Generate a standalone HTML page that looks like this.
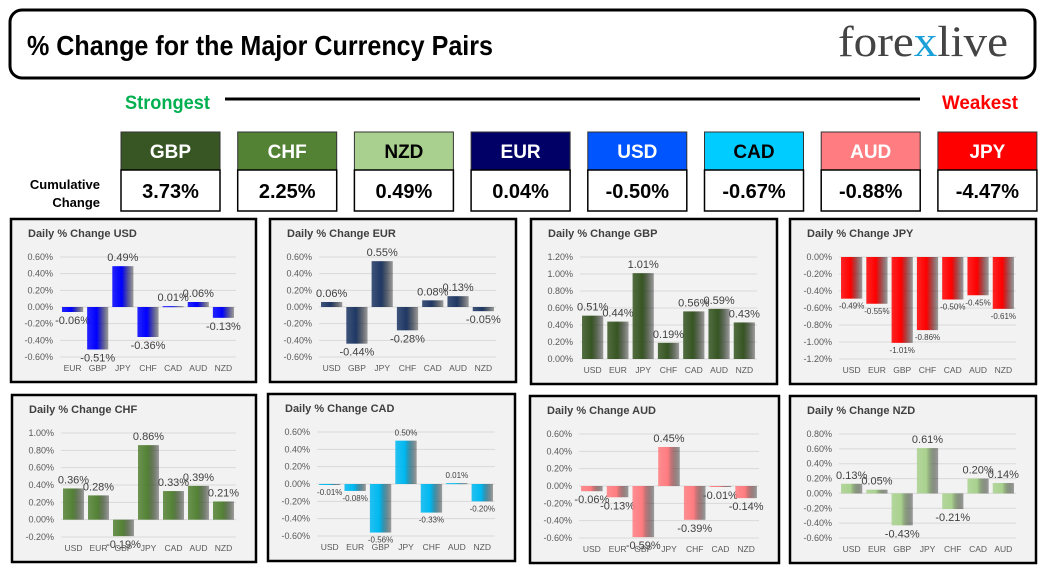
<!DOCTYPE html>
<html><head><meta charset="utf-8"><style>
body{margin:0;background:#fff;width:1046px;height:577px;overflow:hidden}
svg{display:block}
.imp{font-family:"Liberation Sans Narrow","Liberation Sans",sans-serif;font-weight:bold}
</style></head><body>
<svg id="root" width="1046" height="577" viewBox="0 0 1046 577" xmlns="http://www.w3.org/2000/svg">
<rect x="10" y="10" width="1025" height="68" rx="12" fill="#fff" stroke="#000" stroke-width="3"/>
<text x="27" y="55" class="imp" font-size="28" fill="#000" textLength="466" lengthAdjust="spacingAndGlyphs">% Change for the Major Currency Pairs</text>
<g>
<text x="838" y="56" font-family="Liberation Serif,serif" font-size="43" fill="#444" textLength="170" lengthAdjust="spacingAndGlyphs">fore<tspan fill="#1aa0d8">x</tspan>live</text>
</g>
<text x="125" y="109" class="imp" font-size="19" fill="#00b050" textLength="85" lengthAdjust="spacingAndGlyphs">Strongest</text>
<line x1="225" y1="99" x2="920" y2="99" stroke="#000" stroke-width="3"/>
<text x="942" y="109" class="imp" font-size="19" fill="#ff0000" textLength="76" lengthAdjust="spacingAndGlyphs">Weakest</text>
<text x="100" y="189" text-anchor="end" class="imp" font-size="13" fill="#000">Cumulative</text>
<text x="100" y="207" text-anchor="end" class="imp" font-size="13" fill="#000">Change</text>
<g id="cards"></g>
<g id="charts"></g>
</svg>
<script>
const NS="http://www.w3.org/2000/svg";
const cardNames=["GBP","CHF","NZD","EUR","USD","CAD","AUD","JPY"];
const cardValues=["3.73%","2.25%","0.49%","0.04%","-0.50%","-0.67%","-0.88%","-4.47%"];
const cardColors=["#375623","#548235","#a9d08e","#000066","#0055ff","#00ccff","#ff7c80","#ff0000"];
const cardText=["#fff","#fff","#000","#fff","#fff","#000","#fff","#fff"];

const usdCats=["EUR","GBP","JPY","CHF","CAD","AUD","NZD"];
const usdVals=[-0.06,-0.51,0.49,-0.36,0.01,0.06,-0.13];
const eurCats=["USD","GBP","JPY","CHF","CAD","AUD","NZD"];
const eurVals=[0.06,-0.44,0.55,-0.28,0.08,0.13,-0.05];
const gbpCats=["USD","EUR","JPY","CHF","CAD","AUD","NZD"];
const gbpVals=[0.51,0.44,1.01,0.19,0.56,0.59,0.43];
const jpyCats=["USD","EUR","GBP","CHF","CAD","AUD","NZD"];
const jpyVals=[-0.49,-0.55,-1.01,-0.86,-0.50,-0.45,-0.61];
const chfCats=["USD","EUR","GBP","JPY","CAD","AUD","NZD"];
const chfVals=[0.36,0.28,-0.19,0.86,0.33,0.39,0.21];
const cadCats=["USD","EUR","GBP","JPY","CHF","AUD","NZD"];
const cadVals=[-0.01,-0.08,-0.56,0.50,-0.33,0.01,-0.20];
const audCats=["USD","EUR","GBP","JPY","CHF","CAD","NZD"];
const audVals=[-0.06,-0.13,-0.59,0.45,-0.39,-0.01,-0.14];
const nzdCats=["USD","EUR","GBP","JPY","CHF","CAD","AUD"];
const nzdVals=[0.13,0.05,-0.43,0.61,-0.21,0.20,0.14];

const panels=[
 {n:"usd",t:"USD",x:11,y:219,w:245,h:163,c:usdCats,v:usdVals,min:-0.6,max:0.6,col:"#0000ff",fs:11},
 {n:"eur",t:"EUR",x:270,y:219,w:246,h:163,c:eurCats,v:eurVals,min:-0.6,max:0.6,col:"#1f3864",fs:11},
 {n:"gbp",t:"GBP",x:531,y:219,w:246,h:165,c:gbpCats,v:gbpVals,min:0,max:1.2,col:"#375623",fs:11},
 {n:"jpy",t:"JPY",x:790,y:219,w:246,h:165,c:jpyCats,v:jpyVals,min:-1.2,max:0,col:"#ff0000",fs:8},
 {n:"chf",t:"CHF",x:12,y:395,w:244,h:167,c:chfCats,v:chfVals,min:-0.2,max:1.0,col:"#548235",fs:11},
 {n:"cad",t:"CAD",x:268,y:394,w:247,h:167,c:cadCats,v:cadVals,min:-0.6,max:0.6,col:"#00b8f0",fs:8},
 {n:"aud",t:"AUD",x:530,y:396,w:249,h:167,c:audCats,v:audVals,min:-0.6,max:0.6,col:"#ff7c80",fs:11},
 {n:"nzd",t:"NZD",x:790,y:396,w:246,h:167,c:nzdCats,v:nzdVals,min:-0.6,max:0.8,col:"#a9d18e",fs:11}
];
function mk(tag,attrs,parent,txt){const e=document.createElementNS(NS,tag);for(const k in attrs)e.setAttribute(k,attrs[k]);if(txt!==undefined)e.textContent=txt;parent.appendChild(e);return e;}

const cards=document.getElementById("cards");
cardNames.forEach((nm,i)=>{
 const x=121+i*116.7;
 const g=mk("g",{},cards);
 
 
 const h=mk("rect",{x:x,y:132,width:99,height:38,fill:cardColors[i],stroke:"#333","stroke-width":1},g);
 
 
 const ht=mk("text",{x:x+49.5,y:158,"text-anchor":"middle",class:"imp","font-size":19,fill:cardText[i]},g,nm);
 
 
 const b=mk("rect",{x:x,y:170,width:99,height:41,fill:"#fff",stroke:"#000","stroke-width":1.5},g);
 
 
 const vt=mk("text",{x:x+49.5,y:198,"text-anchor":"middle",class:"imp","font-size":20,fill:"#000"},g,cardValues[i]);
 
 
});

const charts=document.getElementById("charts");
const defs=mk("defs",{},charts);
panels.forEach(p=>{
 const gr=mk("linearGradient",{id:"g"+p.n,x1:0,x2:1,y1:0,y2:0},defs);
 mk("stop",{offset:"0","stop-color":p.col,"stop-opacity":0.85},gr);
 mk("stop",{offset:"0.45","stop-color":p.col},gr);
 mk("stop",{offset:"1","stop-color":"#000","stop-opacity":0.35},gr);
 const g=mk("g",{},charts);
 
 
 const bg=mk("rect",{x:p.x,y:p.y,width:p.w,height:p.h,fill:"#f2f2f2",stroke:"#000","stroke-width":2.5},g);
 
 
 const tt=mk("text",{x:p.x+17,y:p.y+18,"font-family":"Liberation Sans,sans-serif","font-weight":"bold","font-size":11,fill:"#404040"},g,"Daily % Change "+p.t);
 
 
 const top=p.y+38,bot=p.y+p.h-25,L=p.x+49,R=p.x+p.w-20;
 const yS=v=>top+(p.max-v)/(p.max-p.min)*(bot-top);
 const steps=Math.round((p.max-p.min)/0.2);
 for(let k=0;k<=steps;k++){
  const v=p.max-k*0.2,y=yS(v);
  const gl=mk("line",{x1:L,x2:R,y1:y,y2:y,stroke:"#d9d9d9","stroke-width":1},g);
  
  
  const tl=mk("text",{x:p.x+42,y:y+3,"text-anchor":"end","font-family":"Liberation Sans,sans-serif","font-size":9,fill:"#595959"},g,(Math.abs(v)<1e-9?0:v).toFixed(2)+"%");
  
  
 }
 const sp=(R-L)/p.c.length,bw=sp*0.84;
 p.c.forEach((c,i)=>{
  const cx=L+sp*(i+0.5),v=p.v[i];
  const y0=yS(0),y1=yS(v);
  const bar=mk("rect",{x:cx-bw/2,y:Math.min(y0,y1),width:bw,height:Math.max(1,Math.abs(y1-y0)),fill:"url(#g"+p.n+")"},g);
  
  
  const ly=v>=0?y1-5:y1+(p.fs>9?12:10);
  const dl=mk("text",{x:cx,y:ly,"text-anchor":"middle","font-family":"Liberation Sans,sans-serif","font-size":p.fs,fill:"#404040"},g,v.toFixed(2)+"%");
  
  
  const xl=mk("text",{x:cx,y:p.y+p.h-11,"text-anchor":"middle","font-family":"Liberation Sans,sans-serif","font-size":8.5,fill:"#595959"},g,c);
  
  
 });
});
</script>
</body></html>
